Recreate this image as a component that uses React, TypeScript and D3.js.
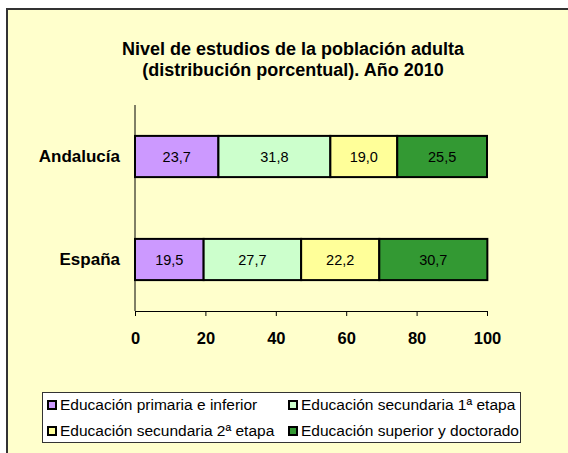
import { useEffect, useRef } from "react"
import * as d3 from "d3"

const regions = ["Andalucía", "España"]
const levels = [
  "Educación primaria e inferior",
  "Educación secundaria 1ª etapa",
  "Educación secundaria 2ª etapa",
  "Educación superior y doctorado",
]
const andalucia = [23.7, 31.8, 19.0, 25.5]
const espana = [19.5, 27.7, 22.2, 30.7]
const ticks = [0, 20, 40, 60, 80, 100]
const colors = ["#cc99ff", "#ccffcc", "#ffff99", "#339933"]

const W = 568
const H = 453
const FONT = "Arial, 'Liberation Sans', Helvetica, sans-serif"

export default function App() {
  const svgRef = useRef<SVGSVGElement>(null)

  useEffect(() => {
    const svgEl = svgRef.current
    if (!svgEl) return
    const svg = d3.select(svgEl)
    svg.selectAll("*").remove()

    // chart area, cropped at right/bottom
    svg.append("rect").attr("x", 0).attr("y", 0).attr("width", W).attr("height", H).attr("fill", "#fff")
    svg.append("rect").attr("x", 7).attr("y", 9).attr("width", W).attr("height", H)
      .attr("fill", "#ffffcc").attr("stroke", "#333").attr("stroke-width", 2)

    const title = svg.append("text").attr("x", 293).attr("text-anchor", "middle")
      .attr("font-family", FONT).attr("font-weight", "bold").attr("font-size", 18).attr("fill", "#000")
    title.append("tspan").attr("x", 293).attr("y", 55).text("Nivel de estudios de la población adulta")
    title.append("tspan").attr("x", 293).attr("y", 76).text("(distribución porcentual). Año 2010")

    const plot = { left: 135, right: 487, top: 105, bottom: 311 }
    const x = d3.scaleLinear().domain([0, 100]).range([plot.left, plot.right])
    const y = d3.scaleBand().domain(regions).range([plot.top, plot.bottom])
      .paddingInner(0.6).paddingOuter(0.3)

    const rows = [andalucia, espana]
    rows.forEach((vals, ri) => {
      let acc = 0
      const g = svg.append("g")
      vals.forEach((v, i) => {
        const x0 = x(acc)
        const x1 = x(acc + v)
        acc += v
        g.append("rect")
          .attr("x", x0).attr("y", y(regions[ri])!)
          .attr("width", x1 - x0).attr("height", y.bandwidth())
          .attr("fill", colors[i]).attr("stroke", "#000").attr("stroke-width", 2)
        g.append("text")
          .attr("x", (x0 + x1) / 2).attr("y", y(regions[ri])! + y.bandwidth() / 2)
          .attr("dy", "0.35em").attr("text-anchor", "middle")
          .attr("font-family", FONT).attr("font-size", 14.5).attr("fill", "#000")
          .text(d3.format(".1f")(v).replace(".", ","))
      })
    })

    // axes
    svg.append("line").attr("x1", plot.left).attr("x2", plot.left)
      .attr("y1", plot.top).attr("y2", plot.bottom).attr("stroke", "#000")
    const xAxis = svg.append("g").attr("transform", `translate(0,${plot.bottom})`)
      .call(d3.axisBottom(x).tickValues(ticks).tickSize(5).tickPadding(16).tickSizeOuter(0))
    xAxis.select(".domain").attr("stroke", "#000")
    xAxis.selectAll("line").attr("stroke", "#000")
    xAxis.selectAll("text").attr("font-family", FONT).attr("font-weight", "bold")
      .attr("font-size", 16.5).attr("fill", "#000")

    svg.append("g").selectAll("text").data(regions).join("text")
      .attr("x", 120).attr("y", d => y(d)! + y.bandwidth() / 2).attr("dy", "0.35em")
      .attr("text-anchor", "end").attr("font-family", FONT).attr("font-weight", "bold")
      .attr("font-size", 17).attr("fill", "#000").text(d => d)

    // legend
    svg.append("rect").attr("x", 42.5).attr("y", 392.5).attr("width", 478).attr("height", 50)
      .attr("fill", "#fff").attr("stroke", "#333")
    const cols = [47, 288]
    const rowsY = [405, 431]
    levels.forEach((name, i) => {
      const lx = cols[i % 2]
      const ly = rowsY[Math.floor(i / 2)]
      svg.append("rect").attr("x", lx + 1).attr("y", ly - 4).attr("width", 8).attr("height", 8)
        .attr("fill", colors[i]).attr("stroke", "#000").attr("stroke-width", 2)
      svg.append("text").attr("x", lx + 13).attr("y", ly).attr("dy", "0.35em")
        .attr("font-family", FONT).attr("font-size", 15.5).attr("fill", "#000").text(name)
    })
  }, [])

  return (
    <svg ref={svgRef} width={W} height={H}
      style={{ position: "absolute", left: 0, top: 0, display: "block" }} />
  )
}
